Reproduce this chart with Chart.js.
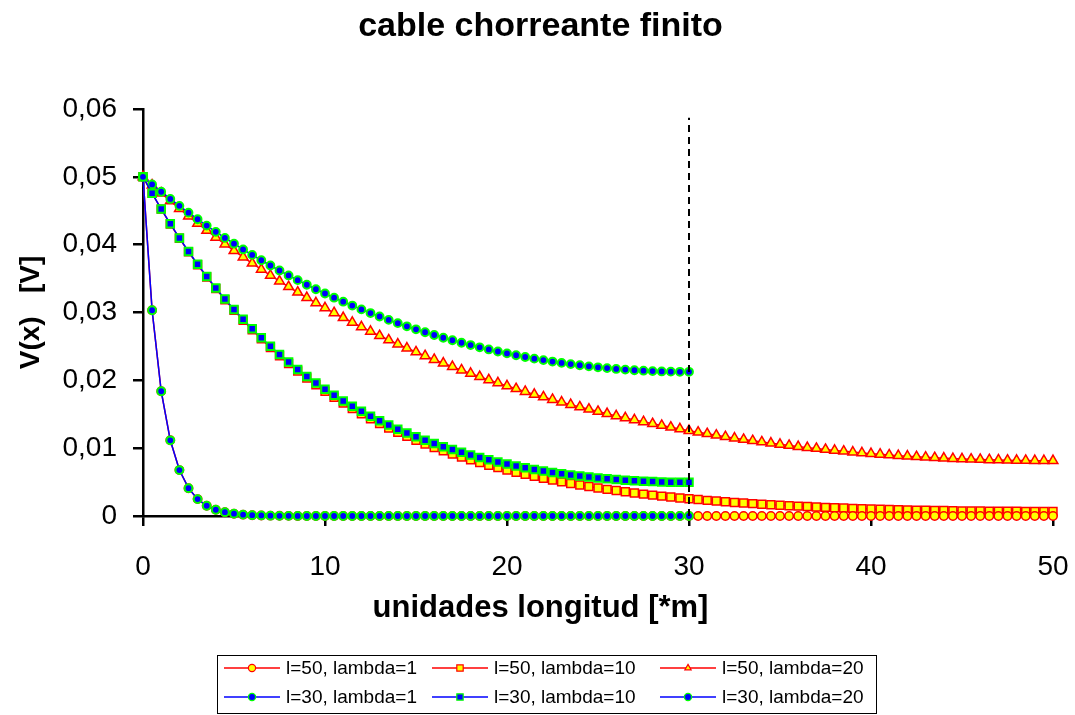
<!DOCTYPE html>
<html>
<head>
<meta charset="utf-8">
<title>cable chorreante finito</title>
<script src="https://cdn.jsdelivr.net/npm/chart.js@4/dist/chart.umd.min.js"></script>
<style>
  html, body { margin: 0; padding: 0; background: #fff; }
  #chart { display: block; }
</style>
</head>
<body>
<canvas id="chart" width="1075" height="715"></canvas>
<script>
// x positions (unidades longitud), every 0.5
const xPos = [
    0, 0.5, 1, 1.5, 2, 2.5, 3, 3.5, 4, 4.5,
    5, 5.5, 6, 6.5, 7, 7.5, 8, 8.5, 9, 9.5,
    10, 10.5, 11, 11.5, 12, 12.5, 13, 13.5, 14, 14.5,
    15, 15.5, 16, 16.5, 17, 17.5, 18, 18.5, 19, 19.5,
    20, 20.5, 21, 21.5, 22, 22.5, 23, 23.5, 24, 24.5,
    25, 25.5, 26, 26.5, 27, 27.5, 28, 28.5, 29, 29.5,
    30, 30.5, 31, 31.5, 32, 32.5, 33, 33.5, 34, 34.5,
    35, 35.5, 36, 36.5, 37, 37.5, 38, 38.5, 39, 39.5,
    40, 40.5, 41, 41.5, 42, 42.5, 43, 43.5, 44, 44.5,
    45, 45.5, 46, 46.5, 47, 47.5, 48, 48.5, 49, 49.5,
    50
];

// l=50 series (101 points)
const v50lambda1 = [
    0.05, 0.03033, 0.01839, 0.01116, 0.00677, 0.0041, 0.00249, 0.00151, 0.00092, 0.00056,
    0.00034, 0.0002, 0.00012, 0.00008, 0.00005, 0.00003, 0.00002, 0.00001, 0, 0,
    0, 0, 0, 0, 0, 0, 0, 0, 0, 0,
    0, 0, 0, 0, 0, 0, 0, 0, 0, 0,
    0, 0, 0, 0, 0, 0, 0, 0, 0, 0,
    0, 0, 0, 0, 0, 0, 0, 0, 0, 0,
    0, 0, 0, 0, 0, 0, 0, 0, 0, 0,
    0, 0, 0, 0, 0, 0, 0, 0, 0, 0,
    0, 0, 0, 0, 0, 0, 0, 0, 0, 0,
    0, 0, 0, 0, 0, 0, 0, 0, 0, 0,
    0
];
const v50lambda10 = [
    0.05, 0.04756, 0.04524, 0.04304, 0.04094, 0.03894, 0.03704, 0.03524, 0.03352, 0.03189,
    0.03033, 0.02885, 0.02745, 0.02611, 0.02484, 0.02363, 0.02247, 0.02138, 0.02034, 0.01935,
    0.0184, 0.01751, 0.01665, 0.01584, 0.01507, 0.01433, 0.01364, 0.01297, 0.01234, 0.01174,
    0.01117, 0.01062, 0.01011, 0.00961, 0.00915, 0.0087, 0.00828, 0.00788, 0.00749, 0.00713,
    0.00678, 0.00645, 0.00614, 0.00584, 0.00556, 0.00529, 0.00503, 0.00479, 0.00456, 0.00434,
    0.00413, 0.00393, 0.00375, 0.00357, 0.00339, 0.00323, 0.00308, 0.00293, 0.00279, 0.00266,
    0.00254, 0.00242, 0.0023, 0.0022, 0.00209, 0.002, 0.00191, 0.00182, 0.00174, 0.00166,
    0.00159, 0.00152, 0.00145, 0.00139, 0.00133, 0.00127, 0.00122, 0.00117, 0.00112, 0.00108,
    0.00104, 0.001, 0.00097, 0.00093, 0.0009, 0.00087, 0.00085, 0.00082, 0.0008, 0.00078,
    0.00076, 0.00074, 0.00073, 0.00072, 0.0007, 0.0007, 0.00069, 0.00068, 0.00068, 0.00067,
    0.00067
];
const v50lambda20 = [
    0.05, 0.04878, 0.0476, 0.04644, 0.04531, 0.04421, 0.04314, 0.04209, 0.04107, 0.04008,
    0.03911, 0.03817, 0.03725, 0.03635, 0.03547, 0.03462, 0.03379, 0.03298, 0.03219, 0.03142,
    0.03068, 0.02995, 0.02923, 0.02854, 0.02787, 0.02721, 0.02657, 0.02594, 0.02534, 0.02475,
    0.02417, 0.02361, 0.02306, 0.02253, 0.02201, 0.02151, 0.02102, 0.02054, 0.02007, 0.01962,
    0.01918, 0.01875, 0.01834, 0.01793, 0.01754, 0.01716, 0.01678, 0.01642, 0.01607, 0.01573,
    0.0154, 0.01508, 0.01476, 0.01446, 0.01417, 0.01388, 0.0136, 0.01334, 0.01308, 0.01283,
    0.01258, 0.01235, 0.01212, 0.0119, 0.01168, 0.01148, 0.01128, 0.01109, 0.01091, 0.01073,
    0.01056, 0.01039, 0.01023, 0.01008, 0.00994, 0.0098, 0.00967, 0.00954, 0.00942, 0.0093,
    0.00919, 0.00909, 0.00899, 0.0089, 0.00882, 0.00873, 0.00866, 0.00859, 0.00852, 0.00846,
    0.00841, 0.00836, 0.00832, 0.00828, 0.00825, 0.00822, 0.00819, 0.00818, 0.00816, 0.00816,
    0.00815
];

// l=30 series (61 points)
const v30lambda1 = [
    0.05, 0.03033, 0.01839, 0.01116, 0.00677, 0.0041, 0.00249, 0.00151, 0.00092, 0.00056,
    0.00034, 0.0002, 0.00012, 0.00008, 0.00005, 0.00003, 0.00002, 0.00001, 0, 0,
    0, 0, 0, 0, 0, 0, 0, 0, 0, 0,
    0, 0, 0, 0, 0, 0, 0, 0, 0, 0,
    0, 0, 0, 0, 0, 0, 0, 0, 0, 0,
    0, 0, 0, 0, 0, 0, 0, 0, 0, 0,
    0
];
const v30lambda10 = [
    0.05, 0.04757, 0.04527, 0.04307, 0.04099, 0.039, 0.03712, 0.03532, 0.03362, 0.032,
    0.03046, 0.02899, 0.0276, 0.02627, 0.02502, 0.02382, 0.02269, 0.02161, 0.02058, 0.01961,
    0.01868, 0.01781, 0.01697, 0.01618, 0.01543, 0.01472, 0.01405, 0.01341, 0.0128, 0.01223,
    0.01168, 0.01117, 0.01068, 0.01022, 0.00979, 0.00938, 0.00899, 0.00863, 0.00829, 0.00797,
    0.00766, 0.00738, 0.00712, 0.00687, 0.00664, 0.00643, 0.00623, 0.00605, 0.00589, 0.00574,
    0.0056, 0.00548, 0.00537, 0.00527, 0.00519, 0.00512, 0.00507, 0.00502, 0.00499, 0.00497,
    0.00497
];
const v30lambda20 = [
    0.05, 0.04888, 0.0478, 0.04674, 0.04572, 0.04472, 0.04375, 0.04281, 0.04189, 0.041,
    0.04014, 0.0393, 0.03849, 0.0377, 0.03693, 0.03619, 0.03546, 0.03477, 0.03409, 0.03343,
    0.0328, 0.03218, 0.03159, 0.03102, 0.03046, 0.02992, 0.02941, 0.02891, 0.02843, 0.02796,
    0.02752, 0.02709, 0.02668, 0.02628, 0.02591, 0.02554, 0.0252, 0.02487, 0.02455, 0.02425,
    0.02397, 0.0237, 0.02344, 0.0232, 0.02298, 0.02277, 0.02257, 0.02239, 0.02222, 0.02206,
    0.02192, 0.0218, 0.02168, 0.02158, 0.02149, 0.02142, 0.02136, 0.02131, 0.02128, 0.02126,
    0.02126
];

// vertical dashed marker at the end of the l=30 cable
const xDash = [30, 30];
const yDash = [0, 0.0587];

const xTicks = [0, 10, 20, 30, 40, 50];
const yTicks = [0, 0.01, 0.02, 0.03, 0.04, 0.05, 0.06];

const FONT = '"Liberation Sans", Arial, Helvetica, sans-serif';
Chart.defaults.font.family = FONT;
Chart.defaults.color = '#000';

function toPoints(values) {
    return values.map((v, i) => ({ x: xPos[i], y: v }));
}

function series(label, values, opts) {
    return Object.assign({
        label: label,
        data: toPoints(values),
        borderWidth: 1.5,
        tension: 0,
        clip: false,
        pointRadius: 4,
        pointHoverRadius: 4
    }, opts);
}

const RED = '#FF0000', YELLOW = '#FFFF00', BLUE = '#0000FF', GREEN = '#00FF00';

// Boxed legend in three columns, like the original
const boxLegend = {
    id: 'boxLegend',
    afterDraw(chart) {
        const ctx = chart.ctx;
        const cols = [224, 432, 660];
        const rows = [668, 697];
        ctx.save();
        ctx.strokeStyle = '#000';
        ctx.lineWidth = 1;
        ctx.strokeRect(217.5, 655.5, 659, 58);
        ctx.font = '19px ' + FONT;
        ctx.textBaseline = 'middle';
        ctx.textAlign = 'left';
        chart.data.datasets.slice(0, 6).forEach((ds, i) => {
            const x = cols[i % 3];
            const y = rows[Math.floor(i / 3)];
            ctx.strokeStyle = ds.borderColor;
            ctx.lineWidth = 1.5;
            ctx.beginPath();
            ctx.moveTo(x, y);
            ctx.lineTo(x + 56, y);
            ctx.stroke();
            ctx.fillStyle = ds.pointBackgroundColor;
            ctx.strokeStyle = ds.pointBorderColor;
            ctx.lineWidth = 1.2;
            Chart.helpers.drawPoint(ctx, {
                pointStyle: ds.pointStyle,
                rotation: 0,
                radius: ds.pointStyle === 'rect' ? 4.5 : 3.6,
                borderWidth: 1.2
            }, x + 28, y);
            ctx.fillStyle = '#000';
            ctx.fillText(ds.label, x + 62, y + 1);
        });
        ctx.restore();
    }
};

const chart = new Chart(document.getElementById('chart'), {
    type: 'line',
    data: {
        datasets: [
            series('l=50, lambda=1', v50lambda1, {
                borderColor: RED, pointStyle: 'circle', pointRadius: 4.2,
                pointBackgroundColor: YELLOW, pointBorderColor: RED, pointBorderWidth: 1.5, order: 2
            }),
            series('l=50, lambda=10', v50lambda10, {
                borderColor: RED, pointStyle: 'rect', pointRadius: 5.6,
                pointBackgroundColor: YELLOW, pointBorderColor: RED, pointBorderWidth: 1.5, order: 2
            }),
            series('l=50, lambda=20', v50lambda20, {
                borderColor: RED, pointStyle: 'triangle', pointRadius: 5.6,
                pointBackgroundColor: YELLOW, pointBorderColor: RED, pointBorderWidth: 1.5, order: 2
            }),
            series('l=30, lambda=1', v30lambda1, {
                borderColor: BLUE, pointStyle: 'circle', pointRadius: 3.9,
                pointBackgroundColor: BLUE, pointBorderColor: GREEN, pointBorderWidth: 2, order: 1
            }),
            series('l=30, lambda=10', v30lambda10, {
                borderColor: BLUE, pointStyle: 'rect', pointRadius: 5.3,
                pointBackgroundColor: BLUE, pointBorderColor: GREEN, pointBorderWidth: 2, order: 1
            }),
            series('l=30, lambda=20', v30lambda20, {
                borderColor: BLUE, pointStyle: 'circle', pointRadius: 3.9,
                pointBackgroundColor: BLUE, pointBorderColor: GREEN, pointBorderWidth: 2, order: 1
            }),
            {
                label: 'l=30',
                data: xDash.map((x, i) => ({ x: x, y: yDash[i] })),
                borderColor: '#000',
                borderWidth: 2,
                borderDash: [7, 5],
                pointRadius: 0,
                clip: false,
                order: 0
            }
        ]
    },
    options: {
        responsive: false,
        animation: false,
        events: [],
        layout: { padding: { top: 0, right: 22, bottom: 0, left: 28 } },
        plugins: {
            legend: { display: false },
            tooltip: { enabled: false },
            title: {
                display: true,
                text: 'cable chorreante finito',
                color: '#000',
                font: { size: 34, weight: 'bold', family: FONT },
                padding: { top: 6, bottom: 62.2 }
            },
            // x-axis title, centred on the whole chart as in the original
            subtitle: {
                display: true,
                position: 'bottom',
                text: 'unidades longitud [*m]',
                color: '#000',
                font: { size: 31, weight: 'bold', family: FONT },
                padding: { top: 0, bottom: 88.4 }
            }
        },
        scales: {
            x: {
                type: 'linear',
                min: 0,
                max: 50,
                afterBuildTicks: s => { s.ticks = xTicks.map(v => ({ value: v })); },
                ticks: {
                    color: '#000',
                    font: { size: 28, family: FONT },
                    padding: 24,
                    maxRotation: 0,
                    callback: v => String(v)
                },
                grid: { drawOnChartArea: false, drawTicks: true, tickLength: 10, color: '#000', lineWidth: 2.5 },
                border: { display: true, color: '#000', width: 2.5 },
                afterFit: s => {
                    s.height = 73.4;
                    s.paddingLeft = 0;
                    s.paddingRight = 0;
                }
            },
            y: {
                type: 'linear',
                min: 0,
                max: 0.06,
                afterBuildTicks: s => { s.ticks = yTicks.map(v => ({ value: v })); },
                ticks: {
                    color: '#000',
                    font: { size: 28, family: FONT },
                    padding: 16,
                    callback: v => v === 0 ? '0' : v.toFixed(2).replace('.', ',')
                },
                grid: { drawOnChartArea: false, drawTicks: true, tickLength: 10, color: '#000', lineWidth: 2.5 },
                border: { display: true, color: '#000', width: 2.5 },
                title: {
                    display: true,
                    text: 'V(x)   [V]',
                    color: '#000',
                    font: { size: 28, weight: 'bold', family: FONT },
                    padding: { top: -14, bottom: 0 }
                },
                afterFit: s => {
                    s.width = 115;
                    s.paddingTop = 0;
                    s.paddingBottom = 0;
                }
            }
        }
    },
    plugins: [boxLegend]
});
</script>
</body>
</html>
